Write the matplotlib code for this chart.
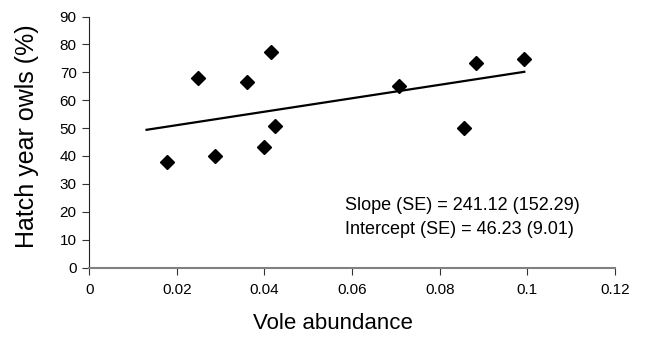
import matplotlib
matplotlib.use("Agg")
import matplotlib.pyplot as plt
import numpy as np

plt.rcParams['font.family'] = ['Liberation Sans', 'DejaVu Sans']

# vole abundance vs. percentage of hatch-year owls
vole = [0.0177, 0.0249, 0.0287, 0.0360, 0.0399, 0.0416, 0.0424,
        0.0706, 0.0855, 0.0883, 0.0993]
hatch_pct = [38.0, 67.9, 40.1, 66.7, 43.4, 77.4, 50.8,
             65.1, 50.0, 73.5, 74.9]

slope, intercept = 241.12, 46.23
slope_se, intercept_se = 152.29, 9.01
line_x = [0.0131, 0.0993]

fig = plt.figure(figsize=(6.46, 3.37), dpi=100)
ax = fig.add_axes([0.138, 0.206, 0.814, 0.745])

ax.plot(vole, hatch_pct, linestyle='none', marker='D', markersize=7.5,
        color='black', zorder=3)
fit_x = np.array(line_x)
ax.plot(fit_x, intercept + slope * fit_x, color='black', linewidth=1.6)

ax.text(0.0585, 22.2, f"Slope (SE) = {slope:.2f} ({slope_se:.2f})",
        fontsize=13, va='center', ha='left')
ax.text(0.0585, 13.5, f"Intercept (SE) = {intercept:.2f} ({intercept_se:.2f})",
        fontsize=13, va='center', ha='left')

ax.set_xlim(0, 0.12)
ax.set_ylim(0, 90)
ax.set_xticks([0, 0.02, 0.04, 0.06, 0.08, 0.1, 0.12])
ax.set_xticklabels(['0', '0.02', '0.04', '0.06', '0.08', '0.1', '0.12'])
ax.set_yticks(range(0, 91, 10))

ax.spines['top'].set_visible(False)
ax.spines['right'].set_visible(False)
ax.spines['left'].set_color('#222222')
ax.spines['left'].set_linewidth(0.8)
ax.spines['bottom'].set_color('#808080')
ax.spines['bottom'].set_linewidth(1.5)
ax.tick_params(axis='both', labelsize=11, length=5, width=0.8,
               color='#333333', pad=4)
ax.tick_params(axis='x', pad=6)

ax.set_xlabel('Vole abundance', fontsize=16)
ax.set_ylabel('Hatch year owls (%)', fontsize=18)
ax.xaxis.set_label_coords(0.464, -0.18)
ax.yaxis.set_label_coords(-0.095, 0.523)

fig.savefig('out.png', dpi=100)
